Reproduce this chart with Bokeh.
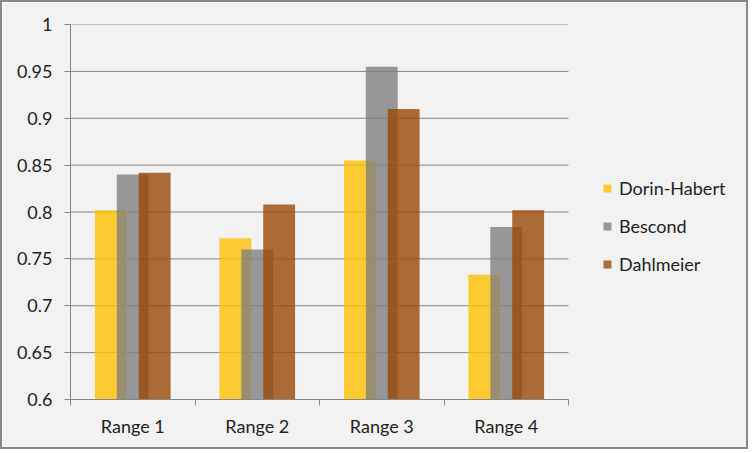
from bokeh.plotting import figure
from bokeh.models import ColumnDataSource, Range1d, FixedTicker, Legend, LegendItem
from bokeh.transform import dodge
from bokeh.embed import file_html
from bokeh.resources import INLINE

categories = ["Range 1", "Range 2", "Range 3", "Range 4"]
dorin_habert = [0.802, 0.772, 0.855, 0.733]
bescond = [0.840, 0.760, 0.955, 0.784]
dahlmeier = [0.842, 0.808, 0.910, 0.802]
series_names = ["Dorin-Habert", "Bescond", "Dahlmeier"]
y_ticks = [0.6, 0.65, 0.7, 0.75, 0.8, 0.85, 0.9, 0.95, 1.0]
y_tick_labels = ["0.6", "0.65", "0.7", "0.75", "0.8", "0.85", "0.9", "0.95", "1"]

n = len(categories)
centers = [i + 0.5 for i in range(n)]
source = ColumnDataSource(dict(x=centers, dh=dorin_habert, be=bescond, da=dahlmeier))

FONT = "Lato"
TEXT = "#222222"
AXIS = "#868686"
BG = "#F2F2F2"

W, H = 748, 449
left, top, bottom_b = 68, 22, 52
plot_px = 498                     # pixel width of the category area
frame_w = W - left
x_end = n * frame_w / plot_px     # extra room on the right for the legend

p = figure(width=W, height=H, output_backend="svg", toolbar_location=None,
           x_range=Range1d(0, x_end), y_range=Range1d(y_ticks[0], y_ticks[-1]),
           min_border_left=left, min_border_right=0, min_border_top=top, min_border_bottom=bottom_b,
           background_fill_color=BG, border_fill_color=BG, outline_line_color=None)
p.styles = {"border": "2px solid #888888"}

# horizontal gridlines limited to the category area
p.segment(x0=0, x1=n, y0=y_ticks, y1=y_ticks, line_color=AXIS, line_width=1, level="underlay")

w = 0.256
off = 0.176
base = y_ticks[0]
r1 = p.vbar(x=dodge("x", -off), top="dh", bottom=base, width=w, source=source,
            fill_color="#FFC000", fill_alpha=0.8, line_color=None)
r2 = p.vbar(x=dodge("x", 0), top="be", bottom=base, width=w, source=source,
            fill_color="#808080", fill_alpha=0.8, line_color=None)
r3 = p.vbar(x=dodge("x", off), top="da", bottom=base, width=w, source=source,
            fill_color="#984807", fill_alpha=0.8, line_color=None)

# x axis
p.xaxis.bounds = (0, n)
p.xaxis.ticker = FixedTicker(ticks=centers, minor_ticks=list(range(n + 1)))
p.xaxis.major_label_overrides = {c: lab for c, lab in zip(centers, categories)}
p.xaxis.major_tick_out = 0
p.xaxis.major_tick_in = 0
p.xaxis.minor_tick_out = 6
p.xaxis.minor_tick_in = 0
p.xaxis.major_label_standoff = 9
p.xgrid.visible = False
p.ygrid.visible = False

# y axis
p.yaxis.ticker = FixedTicker(ticks=y_ticks)
p.yaxis.major_label_overrides = {t: lab for t, lab in zip(y_ticks, y_tick_labels)}
p.yaxis.major_tick_out = 6
p.yaxis.major_tick_in = 0
p.yaxis.minor_tick_out = 0
p.yaxis.minor_tick_in = 0
p.yaxis.major_label_standoff = 12

for ax in (p.xaxis, p.yaxis):
    ax.axis_line_color = AXIS
    ax.major_tick_line_color = AXIS
    ax.minor_tick_line_color = AXIS
    ax.major_label_text_font = FONT
    ax.major_label_text_font_size = "18px"
    ax.major_label_text_color = TEXT

legend = Legend(items=[LegendItem(label=s, renderers=[r]) for s, r in zip(series_names, [r1, r2, r3])],
                location=(532, 124), orientation="vertical",
                glyph_width=10, glyph_height=10, label_standoff=7, label_height=20, spacing=16,
                padding=0, margin=0, border_line_color=None, background_fill_alpha=0,
                label_text_font=FONT, label_text_font_size="18px", label_text_color=TEXT)
p.add_layout(legend, "center")

open("out.html", "w").write(file_html(p, INLINE))
